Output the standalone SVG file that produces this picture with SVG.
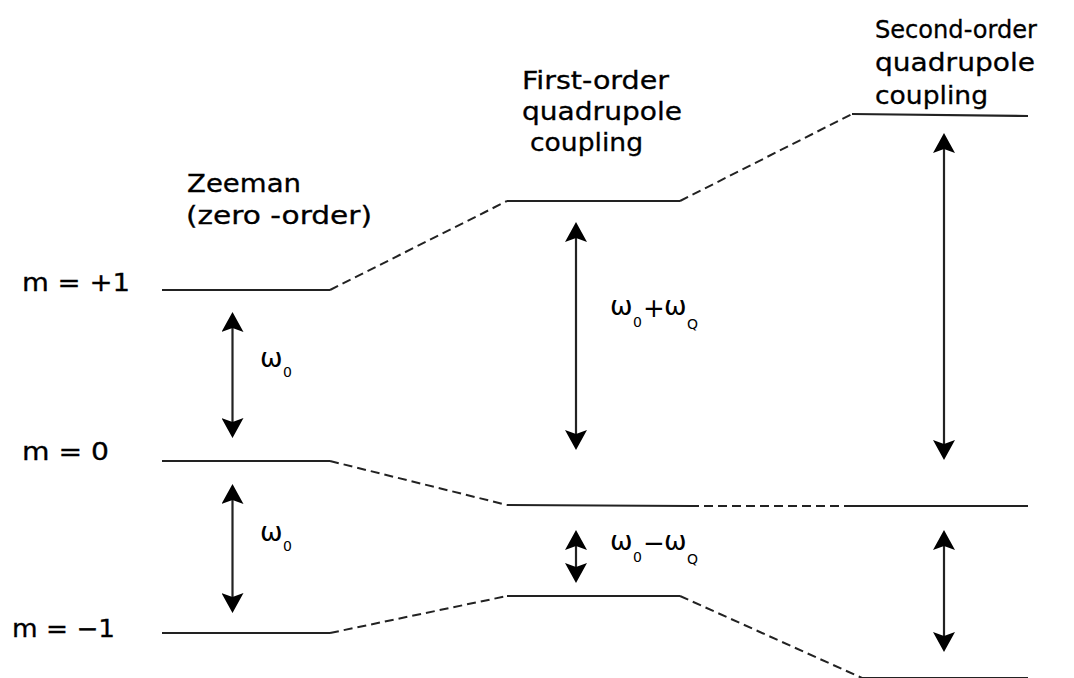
<svg xmlns="http://www.w3.org/2000/svg" width="1074" height="678" viewBox="0 0 1074 678">
<style>
.lbl{font-family:"DejaVu Sans",Verdana,sans-serif;font-size:24px;fill:#000;stroke:#000;stroke-width:0.3}
.w{font-family:"DejaVu Sans",Verdana,sans-serif;font-size:27px;fill:#000}
.sub{font-size:14px}
.op{font-size:26px}
.lvl{stroke:#222;stroke-width:2.2;fill:none}
.dash{stroke:#222;stroke-width:2;fill:none;stroke-dasharray:9 5}
.arr{stroke:#222;stroke-width:2.2;fill:none;marker-start:url(#ah);marker-end:url(#ah)}
</style>
<defs>
<marker id="ah" markerUnits="userSpaceOnUse" viewBox="0 0 20 22" markerWidth="20" markerHeight="22" refX="10" refY="11" orient="auto-start-reverse">
<path d="M0,0 L20,11 L0,22 L4,11 z" fill="#000"/>
</marker>
</defs>
<rect width="1074" height="678" fill="#fff"/>

<g id="labels">
<text class="lbl" x="22" y="291" textLength="108" lengthAdjust="spacingAndGlyphs">m = +1</text>
<text class="lbl" x="22" y="460" textLength="87" lengthAdjust="spacingAndGlyphs">m = 0</text>
<text class="lbl" x="12" y="637" textLength="103" lengthAdjust="spacingAndGlyphs">m = −1</text>
</g>

<g id="title-zeeman">
<text class="lbl" x="187" y="192" textLength="114" lengthAdjust="spacingAndGlyphs">Zeeman</text>
<text class="lbl" x="186" y="224" textLength="186" lengthAdjust="spacingAndGlyphs">(zero -order)</text>
</g>
<g id="title-first">
<text class="lbl" x="522" y="89" textLength="147" lengthAdjust="spacingAndGlyphs">First-order</text>
<text class="lbl" x="522" y="120" textLength="160" lengthAdjust="spacingAndGlyphs">quadrupole</text>
<text class="lbl" x="530" y="151" textLength="113" lengthAdjust="spacingAndGlyphs">coupling</text>
</g>
<g id="title-second">
<text class="lbl" x="875" y="38" textLength="162" lengthAdjust="spacingAndGlyphs">Second-order</text>
<text class="lbl" x="875" y="71" textLength="160" lengthAdjust="spacingAndGlyphs">quadrupole</text>
<text class="lbl" x="875" y="104" textLength="113" lengthAdjust="spacingAndGlyphs">coupling</text>
</g>

<g id="levels">
<path class="lvl" d="M162,290 H330"/>
<path class="lvl" d="M162,461 H330"/>
<path class="lvl" d="M162,633 H330"/>
<path class="lvl" d="M507,201 H680"/>
<path class="lvl" d="M507,505 L690,506"/>
<path class="lvl" d="M507,596 H680"/>
<path class="lvl" d="M852,114 L1028,116"/>
<path class="lvl" d="M850,506 H1028"/>
<path class="lvl" d="M862,678 H1028"/>
</g>

<g id="connectors">
<path class="dash" d="M330,290 L507,201"/>
<path class="dash" d="M680,201 L852,114"/>
<path class="dash" d="M330,461 L507,505"/>
<path class="dash" d="M690,506 L850,506"/>
<path class="dash" d="M330,633 L507,596"/>
<path class="dash" d="M680,596 L862,678"/>
</g>

<g id="arrows">
<path class="arr" d="M232.5,322 V428"/>
<path class="arr" d="M232.5,494 V603"/>
<path class="arr" d="M576,232 V440"/>
<path class="arr" d="M576,540 V573"/>
<path class="arr" d="M944,143 V450"/>
<path class="arr" d="M944,540 V642"/>
</g>

<g id="gap-labels">
<text class="w" x="260" y="367">ω<tspan class="sub" x="283" y="377">0</tspan></text>
<text class="w" x="260" y="541">ω<tspan class="sub" x="283" y="551">0</tspan></text>
<text class="w" x="610" y="315">ω<tspan class="sub" x="633" y="327">0</tspan><tspan class="op" x="643" y="317">+</tspan><tspan x="664" y="315">ω</tspan><tspan class="sub" x="687" y="329">Q</tspan></text>
<text class="w" x="610" y="550">ω<tspan class="sub" x="633" y="562">0</tspan><tspan class="op" x="643" y="552">−</tspan><tspan x="664" y="550">ω</tspan><tspan class="sub" x="687" y="564">Q</tspan></text>
</g>
</svg>
